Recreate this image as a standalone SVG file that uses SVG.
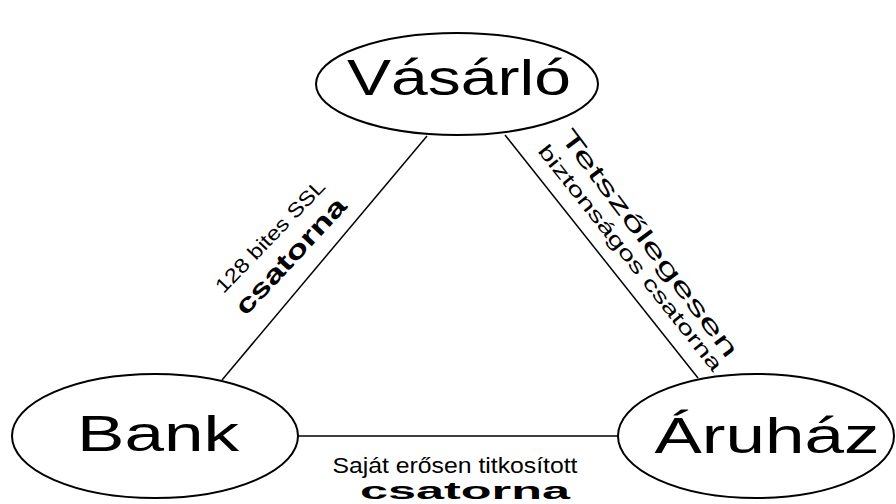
<svg xmlns="http://www.w3.org/2000/svg" width="896" height="504" viewBox="0 0 896 504">
<style>
.node{fill:#fff;stroke:#000;stroke-width:2}
.edge{stroke:#000;stroke-width:1.5;fill:none}
.big{font-family:"Liberation Sans",Arial,sans-serif;font-size:50px;fill:#000;text-anchor:middle}
.lbl{font-family:"Liberation Sans",Arial,sans-serif;fill:#000;text-anchor:middle}
.bold{font-weight:bold}
</style>
<rect width="896" height="504" fill="#fff"/>
<g id="connectors">
<line class="edge" x1="427" y1="136" x2="222" y2="380"/>
<line class="edge" x1="505" y1="135" x2="698" y2="378"/>
<line class="edge" x1="298" y1="436" x2="618" y2="436"/>
</g>
<g id="vasarlo">
<ellipse class="node" cx="457" cy="84" rx="141" ry="51"/>
<text class="big" x="459" y="95" textLength="224" lengthAdjust="spacingAndGlyphs">Vásárló</text>
</g>
<g id="bank">
<ellipse class="node" cx="155" cy="436" rx="143" ry="62"/>
<text class="big" x="158" y="451" textLength="162" lengthAdjust="spacingAndGlyphs">Bank</text>
</g>
<g id="aruhaz">
<ellipse class="node" cx="756" cy="436" rx="138" ry="62"/>
<text class="big" x="767" y="453" textLength="225" lengthAdjust="spacingAndGlyphs">Áruház</text>
</g>
<g id="labels">
<text class="lbl" font-size="20" transform="translate(275,241) rotate(-46)" textLength="148" lengthAdjust="spacingAndGlyphs">128 bites SSL</text>
<text class="lbl bold" font-size="26" transform="translate(297,262) rotate(-47)" textLength="150" lengthAdjust="spacingAndGlyphs">csatorna</text>
<text class="lbl" font-size="24" transform="translate(643,248) rotate(53)" textLength="279" lengthAdjust="spacingAndGlyphs">Tetszőlegesen</text>
<text class="lbl" font-size="20" transform="translate(625,262) rotate(51.5)" textLength="283" lengthAdjust="spacingAndGlyphs">biztonságos csatorna</text>
<text class="lbl" font-size="22" x="455" y="473" textLength="245" lengthAdjust="spacingAndGlyphs">Saját erősen titkosított</text>
<text class="lbl bold" font-size="23" x="465" y="499" textLength="210" lengthAdjust="spacingAndGlyphs">csatorna</text>
</g>
</svg>
